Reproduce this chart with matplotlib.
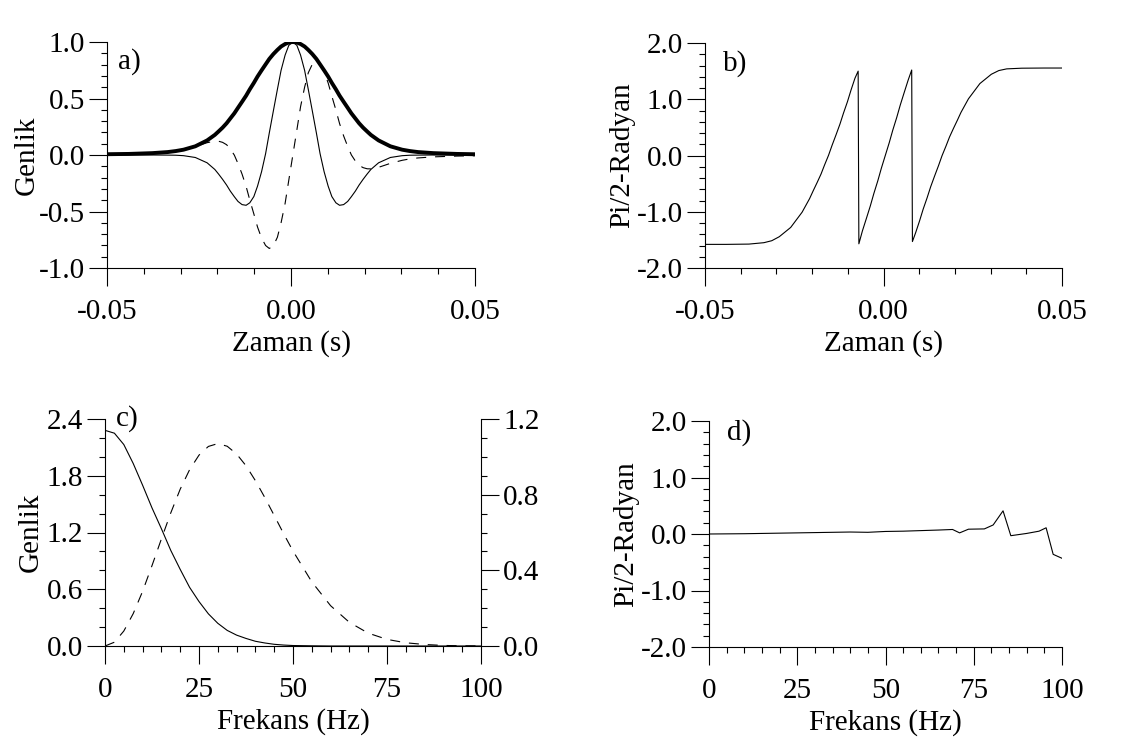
import matplotlib
matplotlib.use("Agg")
import matplotlib.pyplot as plt
from matplotlib.ticker import MultipleLocator, FormatStrFormatter

# ---------------- data ----------------
# panel a) time (s)
t_a = [-0.0500, -0.0441, -0.0377, -0.0335, -0.0313, -0.0292, -0.0260, -0.0228, -0.0207,
       -0.0197, -0.0186, -0.0175, -0.0165, -0.0154, -0.0144, -0.0133, -0.0122, -0.0112, -0.0101,
       -0.0091, -0.0080, -0.0069, -0.0059, -0.0048, -0.0037, -0.0027, -0.0016, -0.0006,
       0.0005,
       0.0016, 0.0026, 0.0037, 0.0047, 0.0058, 0.0069, 0.0079, 0.0090, 0.0101,
       0.0111, 0.0122, 0.0132, 0.0143, 0.0154, 0.0164, 0.0175, 0.0185, 0.0196, 0.0207,
       0.0217, 0.0238, 0.0270, 0.0302, 0.0323, 0.0345, 0.0387, 0.0451, 0.0500]
wavelet = [0.000, 0.000, 0.000, -0.001, -0.002, -0.006, -0.022, -0.069, -0.128,
           -0.168, -0.215, -0.266, -0.319, -0.369, -0.411, -0.439, -0.445, -0.423, -0.368,
           -0.276, -0.148, 0.012, 0.195, 0.389, 0.580, 0.749, 0.884, 0.970,
           1.000,
           0.970, 0.884, 0.749, 0.580, 0.389, 0.195, 0.012, -0.148, -0.276,
           -0.368, -0.423, -0.445, -0.439, -0.411, -0.369, -0.319, -0.266, -0.215, -0.168,
           -0.128, -0.069, -0.022, -0.006, -0.002, -0.001, 0.000, 0.000, 0.000]
quadrature = [0.007, 0.0095, 0.0165, 0.026, 0.0345, 0.047, 0.074, 0.109, 0.123,
              0.122, 0.112, 0.091, 0.054, -0.001, -0.076, -0.169, -0.278, -0.398, -0.521,
              -0.637, -0.735, -0.801, -0.827, -0.804, -0.728, -0.600, -0.428, -0.223,
              0.000,
              0.223, 0.428, 0.600, 0.728, 0.804, 0.827, 0.801, 0.735, 0.637,
              0.521, 0.398, 0.278, 0.169, 0.076, 0.001, -0.054, -0.091, -0.112, -0.122,
              -0.123, -0.109, -0.074, -0.047, -0.0345, -0.026, -0.0165, -0.0095, -0.0066]
envelope = [0.007, 0.0095, 0.0165, 0.026, 0.035, 0.047, 0.077, 0.129, 0.178,
            0.208, 0.242, 0.281, 0.323, 0.369, 0.418, 0.471, 0.525, 0.581, 0.638,
            0.694, 0.749, 0.802, 0.850, 0.893, 0.930, 0.960, 0.982, 0.996,
            1.000,
            0.996, 0.982, 0.960, 0.930, 0.893, 0.850, 0.802, 0.749, 0.694,
            0.638, 0.581, 0.525, 0.471, 0.418, 0.369, 0.323, 0.281, 0.242, 0.208,
            0.178, 0.129, 0.077, 0.047, 0.035, 0.026, 0.0165, 0.0095, 0.0066]

# panel b) instantaneous phase
t_b = [-0.0500, -0.0441, -0.0377, -0.0335, -0.0313, -0.0292, -0.0260, -0.0228, -0.0207,
       -0.0197, -0.0186, -0.0175, -0.0165, -0.0154, -0.0144, -0.0133, -0.0122, -0.0112, -0.0101,
       -0.0091, -0.0080, -0.0071, -0.0069, -0.0059, -0.0048, -0.0037, -0.0027, -0.0016, -0.0006,
       0.0005,
       0.0016, 0.0026, 0.0037, 0.0047, 0.0058, 0.0069, 0.0079, 0.0081, 0.0090, 0.0101,
       0.0111, 0.0122, 0.0132, 0.0143, 0.0154, 0.0164, 0.0175, 0.0185, 0.0196, 0.0207,
       0.0217, 0.0238, 0.0270, 0.0302, 0.0323, 0.0345, 0.0387, 0.0451, 0.0500]
phase_b = [-1.580, -1.580, -1.575, -1.550, -1.515, -1.444, -1.279, -1.008, -0.766,
           -0.628, -0.482, -0.330, -0.167, 0.003, 0.182, 0.367, 0.558, 0.755, 0.956,
           1.163, 1.373, 1.500, -1.570, -1.339, -1.120, -0.898, -0.675, -0.451, -0.226,
           0.000,
           0.226, 0.451, 0.675, 0.898, 1.120, 1.339, 1.520, -1.530, -1.373, -1.163,
           -0.956, -0.755, -0.558, -0.367, -0.182, -0.003, 0.167, 0.330, 0.482, 0.628,
           0.766, 1.008, 1.279, 1.444, 1.510, 1.540, 1.552, 1.555, 1.555]

# panel c) amplitude spectra
freq_c = [0, 2.5, 5, 7.5, 10, 12.5, 15, 17.5, 20, 22.5, 25, 27.5, 30, 32.5, 35, 37.5,
          40, 42.5, 45, 47.5, 50, 55, 60, 65, 70, 75, 80, 85, 90, 95, 100]
amp_left = [2.28, 2.25, 2.13, 1.93, 1.70, 1.46, 1.24, 1.01, 0.81, 0.62, 0.47, 0.34,
            0.24, 0.165, 0.115, 0.08, 0.05, 0.032, 0.018, 0.010, 0.005, 0.002,
            0.0, 0.0, 0.0, 0.0, 0.0, 0.0, 0.0, 0.0, 0.0]
amp_right = [0.0, 0.020, 0.079, 0.171, 0.289, 0.425, 0.566, 0.704, 0.829, 0.932, 1.009,
             1.055, 1.070, 1.056, 1.015, 0.953, 0.874, 0.785, 0.690, 0.594, 0.502,
             0.339, 0.213, 0.125, 0.068, 0.035, 0.017, 0.008, 0.003, 0.001, 0.0005]

# panel d) phase spectrum
freq_d = [0, 10, 20, 30, 40, 45, 50, 55, 60, 65, 69, 71, 73.5, 78, 80.5, 83.3, 85.5,
          90, 93.5, 95.5, 97.5, 100]
phase_d = [0.0, 0.005, 0.015, 0.025, 0.035, 0.03, 0.045, 0.05, 0.06, 0.07, 0.08, 0.02,
           0.085, 0.09, 0.16, 0.41, -0.03, 0.01, 0.05, 0.11, -0.36, -0.43]

# ---------------- style ----------------
plt.rcParams['font.family'] = ['Liberation Serif', 'DejaVu Serif']
plt.rcParams['axes.unicode_minus'] = False
FS = 21
LW = 0.8
DASH = (0, (9, 8))

W, H = 1123, 741
fig = plt.figure(figsize=(W / 100, H / 100), dpi=100)


def rect(l, r, t, b):
    return [l / W, 1 - b / H, (r - l) / W, (b - t) / H]


def style(ax, xmaj, xmin, ymaj, ymin, xfmt, yfmt):
    for s in ['top', 'right']:
        ax.spines[s].set_visible(False)
    for s in ['left', 'bottom']:
        ax.spines[s].set_linewidth(LW)
    ax.set_facecolor('none')
    ax.xaxis.set_major_locator(MultipleLocator(xmaj))
    ax.xaxis.set_minor_locator(MultipleLocator(xmin))
    ax.yaxis.set_major_locator(MultipleLocator(ymaj))
    ax.yaxis.set_minor_locator(MultipleLocator(ymin))
    ax.xaxis.set_major_formatter(FormatStrFormatter(xfmt))
    ax.yaxis.set_major_formatter(FormatStrFormatter(yfmt))
    ax.tick_params(which='major', direction='out', length=13, width=LW,
                   labelsize=FS, pad=3, color='black')
    ax.tick_params(which='minor', direction='out', length=4.5, width=LW, color='black')
    ax.tick_params(axis='x', which='major', pad=9)


# a)
axa = fig.add_axes(rect(107, 475, 42, 268))
axa.plot(t_a, envelope, color='black', lw=2.8, solid_capstyle='round', zorder=3)
axa.plot(t_a, wavelet, color='black', lw=LW)
axa.plot(t_a, quadrature, color='black', lw=LW, ls=DASH)
axa.set_xlim(-0.05, 0.05)
axa.set_ylim(-1.0, 1.0)
style(axa, 0.05, 0.01, 0.5, 0.1, '%.2f', '%.1f')
axa.set_xlabel('Zaman (s)', fontsize=FS, labelpad=4)
axa.set_ylabel('Genlik', fontsize=FS, labelpad=-1)
axa.text(0.03, 0.915, 'a)', transform=axa.transAxes, fontsize=FS, va='center')

# b)
axb = fig.add_axes(rect(705, 1062, 43, 268))
axb.plot(t_b, phase_b, color='black', lw=LW)
axb.set_xlim(-0.05, 0.05)
axb.set_ylim(-2.0, 2.0)
style(axb, 0.05, 0.01, 1.0, 0.2, '%.2f', '%.1f')
axb.set_xlabel('Zaman (s)', fontsize=FS, labelpad=4)
axb.set_ylabel('Pi/2-Radyan', fontsize=FS, labelpad=1)
axb.text(0.05, 0.91, 'b)', transform=axb.transAxes, fontsize=FS, va='center')

# c)
axc = fig.add_axes(rect(105, 481, 419, 646))
axc.plot(freq_c, amp_left, color='black', lw=LW)
axc.set_xlim(0, 100)
axc.set_ylim(0, 2.4)
style(axc, 25, 5, 0.6, 0.2, '%d', '%.1f')
axc.set_xlabel('Frekans (Hz)', fontsize=FS, labelpad=4)
axc.set_ylabel('Genlik', fontsize=FS, labelpad=2)
axc.text(0.03, 1.0, 'c)', transform=axc.transAxes, fontsize=FS, va='center')
axc2 = axc.twinx()
axc2.plot(freq_c, amp_right, color='black', lw=LW, ls=DASH)
axc2.set_ylim(0, 1.2)
for s in ['top', 'left', 'bottom']:
    axc2.spines[s].set_visible(False)
axc2.spines['right'].set_linewidth(LW)
axc2.yaxis.set_major_locator(MultipleLocator(0.4))
axc2.yaxis.set_minor_locator(MultipleLocator(0.1))
axc2.yaxis.set_major_formatter(FormatStrFormatter('%.1f'))
axc2.tick_params(which='major', direction='out', length=13, width=LW, labelsize=FS, pad=3)
axc2.tick_params(which='minor', direction='out', length=4.5, width=LW)

# d)
axd = fig.add_axes(rect(709, 1062, 421, 647))
axd.plot(freq_d, phase_d, color='black', lw=LW)
axd.set_xlim(0, 100)
axd.set_ylim(-2.0, 2.0)
style(axd, 25, 5, 1.0, 0.2, '%d', '%.1f')
axd.set_xlabel('Frekans (Hz)', fontsize=FS, labelpad=4)
axd.set_ylabel('Pi/2-Radyan', fontsize=FS, labelpad=1)
axd.text(0.05, 0.95, 'd)', transform=axd.transAxes, fontsize=FS, va='center')

fig.savefig('out.png', dpi=100)
